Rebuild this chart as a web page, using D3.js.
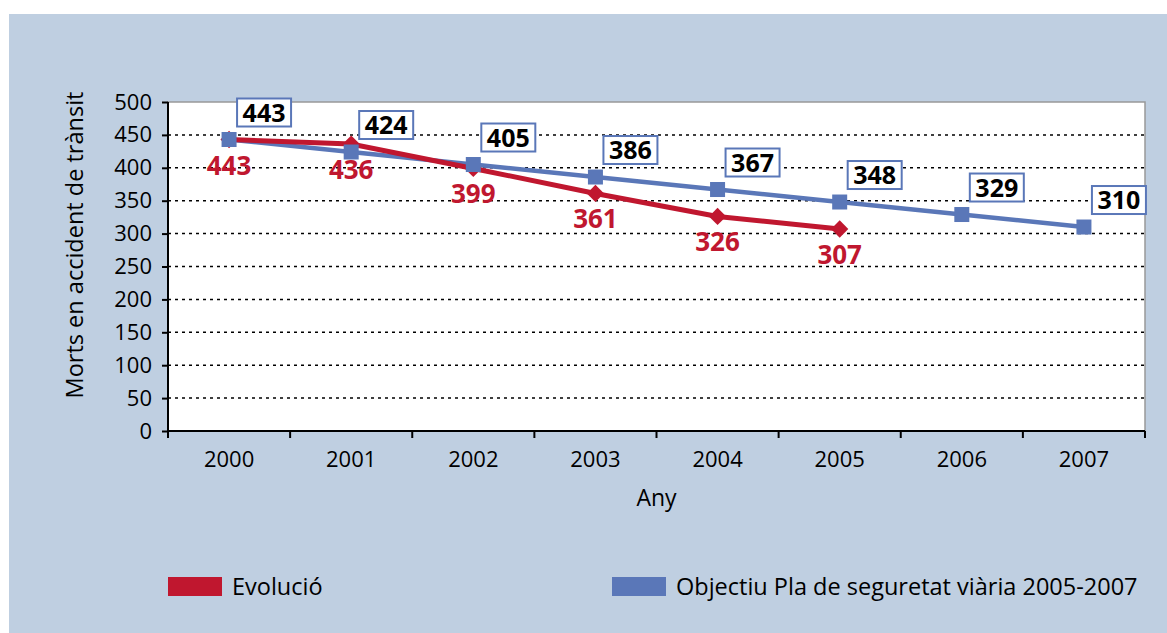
<!DOCTYPE html>
<html lang="ca">
<head>
    <meta charset="utf-8">
    <title>Morts en accident de trànsit</title>
    <script src="https://cdn.jsdelivr.net/npm/d3@7/dist/d3.min.js"></script>
    <style>
        body { margin: 0; background: #fff; }
        svg text { font-family: "Open Sans", "Noto Sans", sans-serif; }
    </style>
</head>
<body>
<script>
    // data
    var years = ["2000", "2001", "2002", "2003", "2004", "2005", "2006", "2007"];
    var evolucio = [443, 436, 399, 361, 326, 307];
    var objectiu = [443, 424, 405, 386, 367, 348, 329, 310];
    var yTicks = [0, 50, 100, 150, 200, 250, 300, 350, 400, 450, 500];
    var seriesNames = ["Evolució", "Objectiu Pla de seguretat viària 2005-2007"];

    var w = 1167, h = 633;
    var red = "#c0172f", blue = "#5a77b8";

    var svg = d3.select("body").append("svg")
        .attr("width", w)
        .attr("height", h);

    // panel background
    svg.append("rect")
        .attr("x", 9).attr("y", 14)
        .attr("width", w - 9).attr("height", h - 14)
        .attr("fill", "#bfcfe1");

    var plot = {left: 168, right: 1145, top: 102, bottom: 431};

    var x = d3.scaleBand()
        .domain(years)
        .range([plot.left, plot.right]);

    var y = d3.scaleLinear()
        .domain([0, 500])
        .range([plot.bottom, plot.top]);

    var cx = function (i) { return x(years[i]) + x.bandwidth() / 2; };

    // plot area
    svg.append("rect")
        .attr("x", plot.left).attr("y", plot.top)
        .attr("width", plot.right - plot.left)
        .attr("height", plot.bottom - plot.top)
        .attr("fill", "white")
        .attr("stroke", "#999")
        .attr("stroke-width", 1.5);

    // dotted gridlines
    svg.selectAll("line.grid")
        .data(yTicks.filter(d => d > 0 && d < 500))
        .enter()
        .append("line")
        .attr("class", "grid")
        .attr("x1", plot.left).attr("x2", plot.right)
        .attr("y1", d => y(d)).attr("y2", d => y(d))
        .attr("stroke", "#000")
        .attr("stroke-width", 1.5)
        .attr("stroke-dasharray", "3,4");

    // y axis
    var yAxis = svg.append("g")
        .attr("transform", "translate(" + plot.left + ",0)")
        .call(d3.axisLeft(y).tickValues(yTicks).tickSize(6).tickPadding(10));
    yAxis.selectAll("text")
        .attr("font-size", "22px")
        .attr("fill", "#000");
    yAxis.selectAll("line, path").attr("stroke", "#000").attr("stroke-width", 2);
    yAxis.select("path").attr("d", "M0," + plot.top + "V" + plot.bottom);

    // x axis
    var xAxis = svg.append("g")
        .attr("transform", "translate(0," + plot.bottom + ")")
        .call(d3.axisBottom(x).tickSize(0).tickPadding(20));
    xAxis.selectAll("text")
        .attr("font-size", "22px")
        .attr("fill", "#000");
    xAxis.select("path")
        .attr("d", "M" + plot.left + ",0H" + plot.right)
        .attr("stroke", "#000").attr("stroke-width", 2);
    xAxis.selectAll("line.sep")
        .data(d3.range(years.length + 1))
        .enter()
        .append("line")
        .attr("class", "sep")
        .attr("x1", d => plot.left + d * x.bandwidth())
        .attr("x2", d => plot.left + d * x.bandwidth())
        .attr("y1", 0).attr("y2", 7)
        .attr("stroke", "#000").attr("stroke-width", 2);

    // axis titles
    svg.append("text")
        .attr("x", (plot.left + plot.right) / 2)
        .attr("y", 506)
        .attr("text-anchor", "middle")
        .attr("font-size", "23px")
        .text("Any");

    svg.append("text")
        .attr("transform", "translate(83,245) rotate(-90)")
        .attr("text-anchor", "middle")
        .attr("font-size", "23.5px")
        .text("Morts en accident de trànsit");

    var line = d3.line()
        .x((d, i) => cx(i))
        .y(d => y(d));

    // objectiu line
    svg.append("path")
        .datum(objectiu)
        .attr("d", line)
        .attr("fill", "none")
        .attr("stroke", blue)
        .attr("stroke-width", 4.5);

    // evolucio line
    svg.append("path")
        .datum(evolucio)
        .attr("d", line)
        .attr("fill", "none")
        .attr("stroke", red)
        .attr("stroke-width", 5);

    svg.selectAll("path.diamond")
        .data(evolucio)
        .enter()
        .append("path")
        .attr("class", "diamond")
        .attr("d", d3.symbol().type(d3.symbolDiamond2).size(190))
        .attr("transform", (d, i) => "translate(" + cx(i) + "," + y(d) + ")")
        .attr("fill", red);

    svg.selectAll("rect.square")
        .data(objectiu)
        .enter()
        .append("rect")
        .attr("class", "square")
        .attr("x", (d, i) => cx(i) - 7.5)
        .attr("y", d => y(d) - 7.5)
        .attr("width", 15).attr("height", 15)
        .attr("fill", blue);

    // evolucio labels
    svg.selectAll("text.redlab")
        .data(evolucio)
        .enter()
        .append("text")
        .attr("class", "redlab")
        .attr("x", (d, i) => cx(i))
        .attr("y", d => y(d) + 35)
        .attr("text-anchor", "middle")
        .attr("font-size", "26px")
        .attr("font-weight", "bold")
        .attr("fill", red)
        .text(d => d);

    // objectiu labels in boxes
    var boxes = svg.selectAll("g.bluelab")
        .data(objectiu)
        .enter()
        .append("g")
        .attr("class", "bluelab")
        .attr("transform", (d, i) => "translate(" + (cx(i) + 8) + "," + (y(d) - 41) + ")");
    boxes.append("rect")
        .attr("width", 54).attr("height", 28)
        .attr("fill", "white")
        .attr("stroke", blue)
        .attr("stroke-width", 2);
    boxes.append("text")
        .attr("x", 27).attr("y", 23)
        .attr("text-anchor", "middle")
        .attr("font-size", "25px")
        .attr("font-weight", "bold")
        .attr("fill", "#000")
        .text(d => d);

    // legend
    var legend = svg.selectAll("g.legend")
        .data(seriesNames)
        .enter()
        .append("g")
        .attr("class", "legend")
        .attr("transform", (d, i) => "translate(" + (i === 0 ? 168 : 612) + ",577)");
    legend.append("rect")
        .attr("width", 54).attr("height", 19)
        .attr("fill", (d, i) => i === 0 ? red : blue);
    legend.append("text")
        .attr("x", 64).attr("y", 18)
        .attr("font-size", "23.5px")
        .attr("fill", "#000")
        .text(d => d);
</script>
</body>
</html>
